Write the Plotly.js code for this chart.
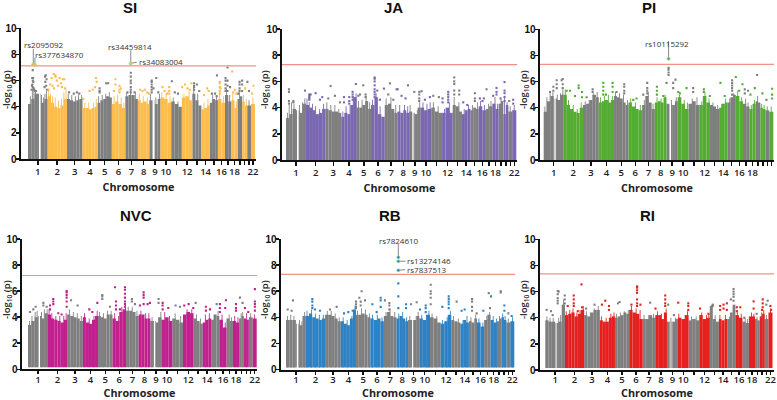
<!DOCTYPE html>
<html><head><meta charset="utf-8">
<script src="https://cdn.plot.ly/plotly-3.0.1.min.js"></script>
<style>html,body{margin:0;padding:0;background:#fff}#c{width:777px;height:400px}</style>
</head><body><div id="c"></div>
<script>
const chrLen=[249,243,198,191,181,171,159,146,141,135,135,133,115,107,102,90,81,78,59,63,48,51];
const chrNames=["1","2","3","4","5","6","7","8","9","10","11","12","13","14","15","16","17","18","19","20","21","22"];
const chrShown=["1","2","3","4","5","6","7","8","9","10","12","14","16","18","22"];

// top of the solid body of points, per chromosome, in -log10(p)
const SI_body=[[4.2,4.6,5,5,4.3,4.6],[4.8,4.3,4,3.9,4.1,4.6],[4.6,4.5,4.4,4.5,4.6],[3.9,3.9,3.8,3.9,4],[4.3,4.5,4.6,4.8,4.7],[4.2,4.4,4.2,3.9],[4.8,4.9,4.9,4.6],[4.5,4.3,4.4,4.2],[4.5,4.5,4.2,4.6],[4.7,4.6,4.3],[4.4,4.2,4],[4.7,4.8,4.5],[5,4.5,4.1],[3.8,3.9,4.1],[4.3,4.6,4.5],[4.6,4.3],[4.9,4.4],[4.5,3.9],[4.6,4.8],[4.4,4.1],[4.1],[4.2]];
const JA_body=[[3.2,3.5,3.9,3.8,3.6,4.3],[4.2,4,3.8,3.5,3.6,3.9],[3.9,3.8,3.7,3.7,3.6],[3.3,3.6,3.5,4.2,4.8],[4,4,4.2,4.5,3.9],[4.2,4.8,3.5,3.3],[4.2,4.3,3.9,3.6],[3.7,3.6,3.8,3.6],[3.7,3.6,3.5,4],[4,3.8,3.9],[4,3.7,3.6],[3.6,4,3.6],[4.2,4.1,3.7],[3.5,3.8,3.9],[3.8,4,3.9],[4.1,3.8],[3.9,4.1],[4.3,3.9],[4.3,4.5],[3.5,4.2],[3.7],[3.8]];
const PI_body=[[3.7,4.5,4.9,4.7,4.6,5],[5,4.2,3.9,3.7,3.6,4],[4.2,4.3,4.6,5,4.8],[4.4,4.5,4.6,4.4,4.6],[4.9,4.8,4.7,4.4,4.2],[4.4,4.1,3.9,3.8],[4.2,4.9,4.4,3.9],[4.4,4.5,4.4,4.8],[4.3,4.2,4.2,4.5],[4.8,4.3,3.9],[4.3,4.5,4.2],[4.2,4.9,4.4],[4.2,4.1,3.9],[4,4.3,4.4],[4.4,4.8,5],[4.9,4.5],[4.3,4.1],[3.9,4.3],[4.5,4.4],[4,3.9],[3.8],[3.7]];
const NVC_body=[[3.4,3.7,4,4.1,3.9,4.3],[4.2,3.9,3.8,3.7,3.6,3.8],[4.2,4.1,4,3.9,3.7],[4,3.6,3.5,3.8,4.1],[4.1,4,3.9,4.2,4.2],[3.9,3.7,4.4,4.6],[4.5,4.5,4.4,4.1],[4.2,4.2,3.9,3.9],[3.7,3.7,3.6,4],[3.8,4,3.7],[3.9,3.8,3.6],[4.2,4.4,4.3],[3.9,3.7,3.5],[3.6,3.8,3.9],[3.8,4.2,4.1],[3.8,3.2],[3.9,3.7],[3.7,3.6],[3.9,4.1],[3.9,3.8],[4],[3.9]];
const RB_body=[[3.8,3.8,3.8,3.5,3.4,4.1],[4.1,4.3,4,3.9,3.8,3.9],[4.2,4.2,4.1,3.9,3.7],[3.7,3.5,3.4,3.9,4.6],[4.2,4.2,4.3,4.2,4],[3.9,3.8,3.9,3.7],[4.1,4.4,4.1,4],[3.9,4.1,3.9,3.7],[3.8,3.8,3.8,4.1],[3.9,3.8,4.2],[4,3.9,3.6],[3.5,3.7,4.2],[3.8,3.7,3.6],[3.5,3.8,3.6],[3.7,3.6,3.9],[3.6,3.3],[3.8,4.2],[3.8,3.6],[3.7,3.9],[4,3.8],[3.6],[3.7]];
const RI_body=[[3.8,3.7,3.7,3.6,3.7,5],[4.2,4.3,4.4,4.1,4.3,4.6],[4.2,4.1,4.4,4.6,4.6],[3.8,3.7,3.7,4,4.1],[4,4.1,4.2,4.4,4.3],[4.6,4.4,4.3,3.9],[3.9,3.9,4.2,4],[4.2,4.2,3.9,4.4],[3.7,3.7,3.7,3.9],[4,3.9,4.2],[3.8,3.9,3.8],[4.2,3.9,4],[4.9,3.9,3.7],[3.9,3.8,3.9],[3.9,4.4,5],[4.2,4],[3.7,3.6],[4.1,4.1],[3.9,3.8],[4.1,4.3],[3.9],[4.4]];

// thin spikes on the top edge of the body: [genome position in Mb, top]
const SI_spikes=[[30,4.8],[55,5.2],[75,5.3],[95,5.2],[115,5],[170,4.9],[195,4.7],[215,5],[235,5.2],[262,5.4],[285,5],[310,4.8],[345,4.7],[385,4.5],[425,4.6],[455,5.1],[482,5.3],[510,5],[555,4.9],[600,4.8],[640,4.9],[680,4.9],[720,4.3],[770,4.3],[830,4.3],[865,4.6],[895,4.8],[940,4.9],[985,5],[1030,5.1],[1090,4.8],[1135,4.9],[1180,4.7],[1215,4.3],[1250,5.1],[1300,5.2],[1360,5.1],[1410,5],[1460,4.8],[1510,4.7],[1550,5],[1620,4.7],[1665,5],[1695,5.1],[1750,5],[1800,4.8],[1840,4.7],[1900,4.4],[1975,5],[2040,5.2],[2100,5.5],[2150,5],[2230,4.3],[2280,4.6],[2340,4.9],[2390,4.9],[2425,5.1],[2475,4.8],[2515,5.4],[2555,4.9],[2595,5],[2640,4.4],[2680,5.1],[2730,4.9],[2765,4.6],[2800,4.5],[2850,4.7]];
const JA_spikes=[[20,3.6],[40,4.2],[70,4.4],[100,4.3],[170,4.2],[205,4.4],[235,4.7],[262,4.7],[290,4.4],[330,4.3],[370,4.1],[420,3.9],[470,4.3],[510,4.4],[560,4.2],[610,4.2],[660,3.9],[710,3.7],[750,4.1],[800,4.2],[840,4.9],[875,5.1],[905,4.5],[950,4.6],[1000,4.9],[1045,4.4],[1080,4.6],[1125,5.1],[1175,4.1],[1250,4.7],[1310,4.8],[1370,4.2],[1420,4.2],[1480,4.2],[1520,4.1],[1550,4.2],[1640,3.8],[1670,4.4],[1710,4.4],[1760,4.3],[1800,4.4],[1840,4.4],[1900,4.1],[1980,3.9],[2040,4.4],[2100,4.8],[2160,4.4],[2225,3.9],[2280,4.2],[2330,4.2],[2390,4.4],[2430,4.5],[2480,4.2],[2530,4.3],[2560,4.5],[2610,4.8],[2640,4.3],[2685,4.7],[2730,4.9],[2760,4.4],[2800,4.1],[2850,4.2]];
const PI_spikes=[[15,4.1],[40,4.8],[80,5.1],[115,5.2],[170,5],[210,5.1],[240,5.4],[270,5.4],[310,4.6],[370,4.2],[420,3.9],[470,4.4],[520,4.5],[570,4.6],[620,5.1],[670,5.2],[710,4.8],[760,4.9],[810,5],[860,4.9],[900,5.2],[950,5.1],[1000,5],[1050,4.6],[1090,4.7],[1150,4.4],[1210,4.2],[1260,4.6],[1310,5.2],[1370,4.3],[1420,4.8],[1470,4.7],[1520,5],[1600,4.6],[1660,4.8],[1700,5],[1760,4.6],[1800,4.4],[1860,4.7],[1920,4.8],[1980,4.5],[2020,5.2],[2070,4.7],[2120,4.4],[2180,4.2],[2230,4.3],[2280,4.7],[2330,4.7],[2380,5.1],[2430,5.3],[2480,4.8],[2530,4.7],[2560,4.4],[2600,4.2],[2640,4.6],[2680,4.9],[2730,4.3],[2760,4.2],[2800,4.1],[2850,4.1]];
const NVC_spikes=[[20,3.7],[50,4.1],[90,4.4],[115,4.5],[170,4.4],[205,4.6],[240,4.6],[265,4.6],[300,4.3],[350,4.1],[400,4.1],[450,4.1],[480,4.3],[520,4.6],[570,4.4],[620,4.3],[670,4.1],[710,4.3],[770,3.9],[830,4.1],[870,4.5],[900,4.4],[950,4.3],[1000,4.5],[1045,4.5],[1090,4.3],[1140,4.1],[1180,4.8],[1225,5],[1260,4.8],[1310,4.8],[1370,4.5],[1420,4.5],[1480,4.3],[1520,4.3],[1560,4],[1640,4],[1670,4.4],[1720,4.4],[1780,4.1],[1850,4.3],[1920,4.1],[2000,4.6],[2060,4.6],[2120,4.2],[2170,3.9],[2230,4.2],[2280,4.3],[2340,4.2],[2390,4.5],[2440,4.2],[2480,3.6],[2530,4.2],[2560,4],[2600,4.1],[2640,4],[2680,4.3],[2700,4.4],[2750,4.3],[2800,4.3],[2850,4.2]];
const RB_spikes=[[20,4.1],[60,4.2],[100,4.1],[170,3.8],[200,3.7],[235,4.4],[265,4.5],[320,4.6],[370,4.3],[420,4.2],[470,4.2],[520,4.5],[570,4.5],[620,4.3],[670,4],[720,4],[770,3.8],[830,4.1],[870,4.9],[900,4.5],[950,4.7],[1000,4.6],[1050,4.3],[1090,4.2],[1150,4.2],[1210,4],[1260,4.4],[1310,4.7],[1370,4.4],[1420,4.3],[1470,4.4],[1520,4],[1560,4.1],[1640,4.1],[1665,4.4],[1710,4.2],[1770,4.2],[1800,4.5],[1840,4.3],[1900,4.1],[1970,3.8],[2030,4],[2070,4.5],[2110,4.1],[2170,3.9],[2230,3.8],[2280,4.1],[2330,4],[2390,4.2],[2430,3.9],[2480,3.6],[2530,4.1],[2565,4.4],[2610,4.1],[2650,3.9],[2690,4.1],[2730,4.3],[2760,4.1],[2800,3.9],[2855,4]];
const RI_spikes=[[20,4.1],[60,4],[100,4],[170,4],[195,4.2],[230,5.4],[265,4.5],[310,4.6],[350,4.7],[400,4.4],[440,4.6],[480,4.9],[520,4.5],[570,4.4],[620,4.7],[670,4.9],[710,4.1],[770,4],[830,4.3],[870,4.4],[900,4.3],[950,4.4],[1000,4.5],[1050,4.6],[1090,4.9],[1150,4.7],[1200,4.6],[1250,4.2],[1310,4.2],[1370,4.3],[1420,4.5],[1470,4.3],[1530,4.7],[1590,4],[1650,4],[1690,4.3],[1770,4.2],[1800,4.5],[1850,4.1],[1910,4.1],[1980,4.4],[2040,4.2],[2070,4.3],[2105,5],[2150,4.2],[2210,4.2],[2280,4.2],[2330,4.1],[2380,4.8],[2430,4.5],[2480,4.3],[2530,4],[2560,3.9],[2610,4.4],[2640,4.3],[2680,4.1],[2740,4.4],[2765,4.6],[2800,4.2],[2850,4.7]];

// isolated points: [genome position in Mb, value, value, ...]
const SI_peaks=[[60,6.8,6.2,6,5.5],[55,6.2,5.7],[65,6.2,5.3],[68,5.9],[50,5.6],[72,5.4],[45,5.3],[80,5.3],[90,5.2],[100,5.2],[225,6.4],[215,6.3],[235,6.1],[220,5.9],[230,5.6],[210,5.5],[240,5.3],[325,6.5],[345,6.4],[350,6.3],[300,6.2],[400,6.2],[365,6],[420,5.8],[440,6.1],[460,6.1],[280,5.7],[310,5.6],[380,5.6],[430,5.5],[470,5.4],[260,5.3],[330,5.4],[520,5.1],[580,5],[620,5.1],[650,5],[860,6.2],[870,5.9],[780,5.2],[820,5.3],[700,4.6],[850,5.5],[907,5.4,5.2,5.1],[991,5.8],[1016,5.8],[1109,6.1,5.7],[1159,5.6,5.3,5.1],[1175,5.4],[1090,5.2],[1302,6.6,6.3,6,5.8,5.5,5.3,5.1],[1260,5.1],[1350,5.1],[1420,5.3],[1450,5.2],[1480,5.3],[1510,5.1],[1530,5],[1567,6,5.9,5.7,5.5,5.3,5.1],[1625,6.2],[1590,5.4],[1650,5.1],[1705,5.5],[1730,5.2],[1789,5.5,5.2,5],[1760,5],[1823,5.95],[1860,5.1],[1900,5],[1953,5.5],[1990,5.7],[2020,5.4],[2050,5.3],[2070,5.8],[2104,5.8,5.6,5.5,5.3],[2140,5.7],[2170,5.2],[2230,4.9],[2270,5.4],[2290,5.2],[2330,5],[2370,5],[2390,4.8],[2394,6.4],[2440,5.4],[2430,5.9,5.8,5.5,5.2,5],[2503,6.2,6,5.7,5.4,5.2],[2528,7,6,5.6,5.2],[2560,5.5],[2587,6.7],[2600,5.1],[2620,5.3],[2640,5],[2680,5.9,5.7,5.4,5.2],[2660,5],[2713,6,5.7,5.2],[2750,5.4],[2780,5.9],[2800,5.2],[2856,5.6],[2840,5]];
const JA_peaks=[[37,5.4,5.2,4.5,4.3],[92,4.5,4.4],[237,5.3],[291,5,4.9,4.8,4.7,4.6],[308,5],[370,5.1],[453,4.8],[424,4.6],[557,5.65],[611,4.9],[528,4.7],[674,4.4],[724,4.8,4.4],[790,4.8,4.5,4.3],[832,5.2,5,4.8,4.6],[873,5.8],[923,5],[965,5.7],[994,5,4.8],[903,4.9],[1107,6.3,6.2,6,5.7,5.4,5.2,5,4.8],[1140,5.3],[1173,4.6],[1223,5.45],[1298,5.85],[1277,5],[1340,4.6],[1381,5.4],[1394,5.4],[1443,4.9],[1493,4.7],[1523,5.7],[1602,5.2],[1664,5.2,5,4.7,4.5],[1693,5.25],[1735,4.6],[1797,4.8],[1839,4.9],[1909,4.8],[2026,5.2,5,4.8,4.6,4.4],[1955,4.7,4.4],[2101,6.3,6,5.8,5.3,5],[2163,5.3,5],[2213,4.4],[2263,4.2],[2359,5.1,4.7,4.5],[2421,4.7],[2454,4.5],[2504,5.4],[2471,4.7],[2587,4.9],[2629,5.5,5.2,5],[2679,4.7],[2729,5.95,5.3,5.1,4.8,4.5],[2787,4.5],[2837,4.6,4.3]];
const PI_peaks=[[79,5.2],[121,5.6,5.3],[163,6.1,5.8,5.5],[225,6.1],[238,6.2,5.8,5.5],[288,5.3],[438,5.7,5.5],[329,5.3],[480,5.2,4.8],[392,4.9],[613,5.4,5.2],[538,4.8],[642,4.9],[746,5.9,5.6,5.3,5],[863,5.9,5.6,5.2],[780,5],[1009,5.8,5.6,5.3,5.1],[913,5.2],[1122,4.6],[1163,4.7],[1297,5.9,5.5,5.3,5.1],[1247,5],[1418,5.6,5.3,5],[1497,4.9],[1539,5.9],[1564,7.05,6.9,6.7,6.5],[1622,5.9,5.5],[1651,6.15],[1685,5.2],[1789,5.5],[1705,5.1],[1872,5.5,5.2],[2006,5.4,5.2],[2081,4.9],[2214,5.9],[2268,4.9],[2360,6.1,5.9,5.7,5.5,5.3,5],[2406,6.35],[2448,5.3],[2490,5.8],[2519,5.4,5.1],[2560,5.3],[2590,5],[2673,6.5],[2644,5.5],[2740,5.1],[2790,4.6],[2861,5.45,5,4.7]];
const NVC_peaks=[[25,4.4],[67,4.6],[96,4.8],[193,5.1,4.9],[235,4.8],[318,5.4,5.2,5],[277,4.9,4.6],[486,6,5.9,5.7,5.5,5.2,4.8],[423,4.2],[381,4.3],[541,5.3],[624,4.9],[872,5.1],[771,4.6],[809,4.4],[934,5.7,5.6,5.4],[1031,4.8],[1094,6.3],[1106,5.2,4.9,4.6],[1219,6.3,6.1,5.8,5.5,5.2,5,4.8],[1156,4.6],[1307,5.4,5.2],[1345,5],[1454,5.9,5.7,5.5,5],[1504,5],[1408,4.9],[1533,5.1],[1642,5.4,5.1],[1693,5.1,4.9,4.6],[1764,4.7],[1856,4.9],[1911,4.8],[1965,4.9],[2020,5],[2078,4.7],[2108,5.1],[2237,4.8,4.5],[2288,4.6],[2372,5],[2413,5,4.7,4.4],[2489,5.3],[2480,4.7],[2615,5,4.7,4.5],[2665,5.5],[2698,5.1],[2728,4.7],[2770,4.4],[2853,6.15,5.2,5,4.8,4.5]];
const RB_peaks=[[88,5.3],[21,4.6],[71,4.5],[332,5.4,5.2,4.9,4.7],[428,4.5],[365,4.6],[638,4.8],[554,4.6],[785,4.4],[731,4.3],[840,4.5],[882,5.2,5,4.8,4.7],[953,6],[924,5.5],[941,5.2,4.9],[995,5.3],[1088,5],[1193,5.5,5.3,4.8],[1142,4.4],[1247,5.3],[1302,5.1,4.9,4.6],[1415,6.6,5.6,4.7],[1512,5,4.7],[1575,5],[1646,5.15],[1760,4.9,4.7,4.4],[1688,4.6],[1823,6.5,6,5.8,5.5,5],[2050,5.6,5.4,5.2,5,4.7],[1970,4.8],[2150,5.2],[2251,4.6],[2213,4.5],[2344,5.4,5.2,4.8,4.5],[2402,4.3],[2486,4.5],[2554,5.85],[2583,5.6],[2570,4.7],[2705,6,5.9],[2751,4.9,4.5],[2801,4.3],[2843,4.1]];
const RI_peaks=[[17,4.6],[72,4.5],[93,4.2],[157,6.05,5.8,5.5,5.3,5.1],[170,6],[246,5.7,5.4,5.1],[360,5.7,5.4,5.1,4.9],[284,4.9],[458,6.55],[411,4.5],[466,4.8],[517,4.7],[623,5],[759,5.3],[717,5],[806,4.9,4.6],[941,5.2],[920,5.1],[1162,6.4,6.3,6.1,5.9,5.4,5.1,4.9],[1090,5],[1204,5],[1327,5.15],[1395,4.7],[1518,5.7,5.4,5.1,4.9],[1556,5],[1628,4.2],[1683,5.15],[1810,5.1,4.9,4.6],[1959,4.7],[2065,4.3],[2120,5,4.9],[2213,4.9,4.6],[2256,5,4.7],[2298,5.1,4.6],[2383,6.2,6,5.8,5.6,5.3],[2349,5.4],[2425,4.8,4.5],[2468,4.8],[2519,4],[2637,5.25,4.7],[2675,4.3],[2752,5.4,5.1,4.8],[2743,4.6],[2815,5.3],[2798,5],[2849,4.9],[2858,4.6]];

// regions with no markers (centromeres), Mb
const SI_gaps=[[139,160],[1579,1604]];
const JA_gaps=[[137,158],[1577,1593]];
const PI_gaps=[[133,150],[1576,1597]];
const NVC_gaps=[[134,151],[1584,1600]];
const RB_gaps=[[136,156],[1588,1600]];
const RI_gaps=[[131,143],[1578,1599]];

// significance threshold as drawn
const thresholds=[7.12,7.28,7.32,7.2,7.29,7.35];

// labelled SNPs: name, pos, value, leader end x, leader end y, label x, label y
const SI_snps=[["rs2095092",67,7.25,67,8.4,198,8.78],["rs377634870",88,7.2,88,7.75,403,8.02],["rs34459814",1302,7.3,1302,8.3,1298,8.57],["rs34083004",1302,7.32,1378,7.4,1680,7.43]];
const JA_snps=[];
const PI_snps=[["rs10115292",1564,7.75,1564,9.1,1547,8.88]];
const NVC_snps=[];
const RB_snps=[["rs7824610",1415,8.6,1415,9.6,1420,9.92],["rs13274146",1415,8.3,1505,8.3,1802,8.37],["rs7837513",1415,7.6,1500,7.65,1781,7.64]];
const RI_snps=[];

const GRAY="#7f7f7f";
const panels=[
 {t:"SI", c:"#fdbd4c",body:SI_body, spikes:SI_spikes, peaks:SI_peaks, gaps:SI_gaps, snps:SI_snps, floor:0,   L:21, R:256,S:28, E:255,B:159,  T:28.3,tx:130,ty:7.5,yx:7,yy:90,tl:4,ls:-1,so:6},
 {t:"JA", c:"#7a68b0",body:JA_body, spikes:JA_spikes, peaks:JA_peaks, gaps:JA_gaps, snps:JA_snps, floor:0,   L:282,R:517,S:286,E:516.3,B:160,T:29,  tx:393,ty:7.5,yx:265,yy:90,tl:4,ls:-1,so:6},
 {t:"PI", c:"#54ad33",body:PI_body, spikes:PI_spikes, peaks:PI_peaks, gaps:PI_gaps, snps:PI_snps, floor:0,   L:540,R:774,S:543.7,E:773.3,B:160,T:29.3,tx:649,ty:7.5,yx:524,yy:90,tl:4,ls:-1,so:6},
 {t:"NVC",c:"#c1208f",body:NVC_body,spikes:NVC_spikes,peaks:NVC_peaks,gaps:NVC_gaps,snps:NVC_snps,floor:0.15,L:22, R:257,S:28, E:256.7,B:369.3,T:239,tx:136,ty:215.3,yx:7,yy:300,tl:3,ls:-3,so:10},
 {t:"RB", c:"#2e82c4",body:RB_body, spikes:RB_spikes, peaks:RB_peaks, gaps:RB_gaps, snps:RB_snps, floor:0.15,L:281,R:515,S:286,E:514.3,B:369.5,T:239,tx:390,ty:215.3,yx:265,yy:300,tl:3,ls:-3,so:10},
 {t:"RI", c:"#e3211f",body:RI_body, spikes:RI_spikes, peaks:RI_peaks, gaps:RI_gaps, snps:RI_snps, floor:0.15,L:540,R:774,S:545.3,E:772.5,B:370,T:239.3,tx:647,ty:215.3,yx:524,yy:300,tl:3,ls:-3,so:10}
];

const chrStart=[];chrLen.reduce((a,l,i)=>{chrStart[i]=a;return a+l;},0);
const total=chrLen.reduce((a,b)=>a+b,0);
const chrOf=p=>{for(let i=21;i>=0;i--)if(p>=chrStart[i])return i;return 0;};
const chrMid=c=>chrStart[c]+chrLen[c]/2;

const traces=[],annotations=[],layout={width:777,height:400,margin:{l:0,r:0,t:0,b:0},paper_bgcolor:"#fff",plot_bgcolor:"rgba(0,0,0,0)",showlegend:false,barmode:"overlay",annotations};
const titleFont="'Open Sans',sans-serif";

panels.forEach((p,i)=>{
  const n=i+1,xa="x"+(n>1?n:""),ya="y"+(n>1?n:"");
  const xk="xaxis"+(n>1?n:""),yk="yaxis"+(n>1?n:"");
  const m=total/(p.E-p.S);
  const bars=[{x:[],y:[],w:[],base:[]},{x:[],y:[],w:[],base:[]}];
  p.body.forEach((vals,ci)=>{
    const step=chrLen[ci]/vals.length;
    vals.forEach((v,bi)=>{
      let segs=[[chrStart[ci]+bi*step,chrStart[ci]+(bi+1)*step]];
      p.gaps.forEach(g=>{
        const out=[];
        segs.forEach(([a,b])=>{
          if(g[1]<=a||g[0]>=b){out.push([a,b]);return;}
          if(g[0]>a)out.push([a,g[0]]);
          if(g[1]<b)out.push([g[1],b]);
        });
        segs=out;
      });
      segs.forEach(([a,b])=>{
        const t=bars[ci%2];
        t.x.push((a+b)/2);t.w.push(b-a);t.y.push(v-p.floor);t.base.push(p.floor);
      });
    });
  });
  p.spikes.forEach(s=>{
    const t=bars[chrOf(s[0])%2];
    t.x.push(s[0]);t.w.push(11);t.y.push(s[1]-p.floor);t.base.push(p.floor);
  });
  bars.forEach((b,k)=>traces.push({type:"bar",x:b.x,y:b.y,width:b.w,base:b.base,xaxis:xa,yaxis:ya,marker:{color:k?p.c:GRAY,line:{width:0}},hoverinfo:"skip"}));
  const pts=[{x:[],y:[]},{x:[],y:[]}];
  p.peaks.forEach(r=>{
    const t=pts[chrOf(r[0])%2];
    r.slice(1).forEach(v=>{t.x.push(r[0]);t.y.push(v);});
  });
  pts.forEach((b,k)=>traces.push({type:"scatter",mode:"markers",x:b.x,y:b.y,xaxis:xa,yaxis:ya,marker:{color:k?p.c:GRAY,size:2.1,symbol:"square"},hoverinfo:"skip"}));
  traces.push({type:"scatter",mode:"lines",x:[(p.L-p.S)*m,(p.R-p.S)*m],y:[thresholds[i],thresholds[i]],xaxis:xa,yaxis:ya,line:{color:"#f2918a",width:1.2},hoverinfo:"skip"});
  p.snps.forEach(s=>{
    traces.push({type:"scatter",mode:"lines",x:[s[1],s[3]],y:[s[2],s[4]],xaxis:xa,yaxis:ya,line:{color:"#555",width:0.7},hoverinfo:"skip"});
    annotations.push({text:s[0],x:s[5],y:s[6],xref:xa,yref:ya,showarrow:false,xanchor:"center",yanchor:"middle",borderpad:0,font:{family:titleFont,size:8,color:"#333"}});
  });
  if(p.snps.length){
    traces.push({type:"scatter",mode:"markers",x:p.snps.map(s=>s[1]),y:p.snps.map(s=>s[2]),xaxis:xa,yaxis:ya,marker:{symbol:"circle",size:3,color:p.c,line:{color:"#9ad4a0",width:0.7}},hoverinfo:"skip"});
  }
  const shownVals=[],minorVals=[];
  chrNames.forEach((nm,c)=>(chrShown.includes(nm)?shownVals:minorVals).push(chrMid(c)));
  layout[xk]={domain:[p.L/777,p.R/777],range:[(p.L-p.S)*m,(p.R-p.S)*m],anchor:ya,
    tickmode:"array",tickvals:shownVals,ticktext:chrShown,ticks:"outside",ticklen:p.tl,tickwidth:1.5,tickcolor:"#111",ticklabelstandoff:p.ls,
    minor:{tickmode:"array",tickvals:minorVals,ticks:"outside",ticklen:p.tl,tickwidth:1.5,tickcolor:"#111",showgrid:false},
    showline:true,linecolor:"#111",linewidth:2,showgrid:false,zeroline:false,tickangle:0,
    tickfont:{family:titleFont,size:9.5,color:"#222",weight:600},
    title:{text:"<b>Chromosome</b>",font:{family:titleFont,size:10.8,color:"#222"},standoff:p.so}};
  layout[yk]={domain:[(400-p.B)/400,(400-p.T)/400],range:[0,10],anchor:xa,
    tickvals:[0,2,4,6,8,10],ticks:"outside",ticklen:3.5,tickwidth:1.5,tickcolor:"#111",ticklabelstandoff:-3,
    showline:true,linecolor:"#111",linewidth:2,showgrid:false,zeroline:false,
    tickfont:{family:"'Liberation Sans',sans-serif",size:10,color:"#111",weight:700}};
  annotations.push({text:"-log<sub>10</sub> (p)",x:p.yx/777,y:1-p.yy/400,xref:"paper",yref:"paper",showarrow:false,textangle:-90,xanchor:"center",yanchor:"middle",font:{family:titleFont,size:9.5,color:"#222",weight:600}});
  annotations.push({text:"<b>"+p.t+"</b>",x:p.tx/777,y:1-p.ty/400,xref:"paper",yref:"paper",showarrow:false,xanchor:"center",yanchor:"middle",font:{family:"'Liberation Sans',sans-serif",size:15,color:"#111"}});
});

Plotly.newPlot("c",traces,layout,{staticPlot:true,displayModeBar:false});
</script>
</body></html>
